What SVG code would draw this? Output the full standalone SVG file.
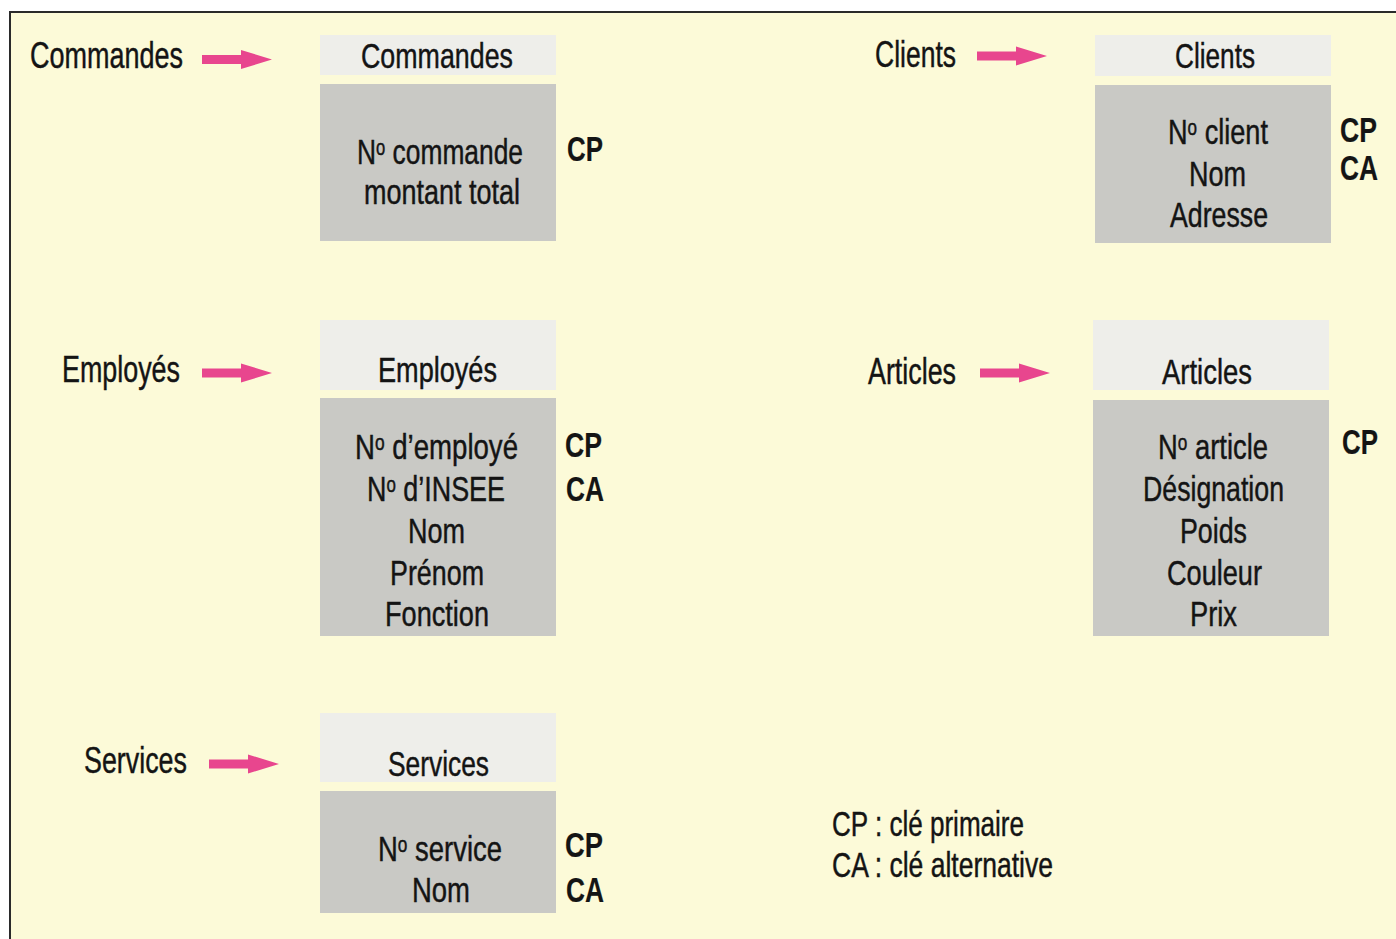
<svg xmlns="http://www.w3.org/2000/svg" xmlns:xlink="http://www.w3.org/1999/xlink" width="1396" height="939" viewBox="0 0 1396 939">
<style>
text{font-family:"Liberation Sans Narrow","Liberation Sans",Arial,sans-serif;fill:#141414;stroke:#141414;stroke-width:0.45px}
.lbl{font-size:37px}
.hd{font-size:35px}
.bd{font-size:35px}
.key{font-size:35px;font-weight:bold;stroke-width:0.2px}
.lg{font-size:35px}
.head{fill:#eeeeea}
.body{fill:#c9c9c5}
.arrow{fill:#e8468e}
.sup{font-size:22px}
</style>
<defs>
<path id="arr" d="M0,-4.5 H39 V-9.5 L70,0 L39,9.5 V4.5 H0 Z"/>
</defs>
<rect x="0" y="0" width="1396" height="939" fill="#ffffff"/>
<rect x="10" y="12" width="1400" height="940" fill="#fcfad8" stroke="#2a2a2a" stroke-width="2"/>

<g id="connectors" class="arrow">
<use xlink:href="#arr" transform="translate(202,59.5)"/>
<use xlink:href="#arr" transform="translate(202,373)"/>
<use xlink:href="#arr" transform="translate(209,764)"/>
<use xlink:href="#arr" transform="translate(977,56)"/>
<use xlink:href="#arr" transform="translate(980,373)"/>
</g>

<g id="label-commandes"><text class="lbl" x="30" y="68" textLength="153" lengthAdjust="spacingAndGlyphs">Commandes</text></g>
<g id="label-employes"><text class="lbl" x="62" y="382" textLength="118" lengthAdjust="spacingAndGlyphs">Employés</text></g>
<g id="label-services"><text class="lbl" x="84" y="773" textLength="103" lengthAdjust="spacingAndGlyphs">Services</text></g>
<g id="label-clients"><text class="lbl" x="875" y="67" textLength="81" lengthAdjust="spacingAndGlyphs">Clients</text></g>
<g id="label-articles"><text class="lbl" x="868" y="384" textLength="88" lengthAdjust="spacingAndGlyphs">Articles</text></g>

<g id="table-commandes">
<rect class="head" x="320" y="35" width="236" height="40"/>
<rect class="body" x="320" y="84" width="236" height="157"/>
<text class="hd" x="361" y="68" textLength="152" lengthAdjust="spacingAndGlyphs">Commandes</text>
<text class="bd" x="357" y="164" textLength="166" lengthAdjust="spacingAndGlyphs">N<tspan class="sup" baseline-shift="40%">o</tspan> commande</text>
<text class="bd" x="364" y="204" textLength="156" lengthAdjust="spacingAndGlyphs">montant total</text>
<text class="key" x="567" y="161" textLength="36" lengthAdjust="spacingAndGlyphs">CP</text>
</g>

<g id="table-clients">
<rect class="head" x="1095" y="35" width="236" height="41"/>
<rect class="body" x="1095" y="85" width="236" height="158"/>
<text class="hd" x="1175" y="68" textLength="80" lengthAdjust="spacingAndGlyphs">Clients</text>
<text class="bd" x="1168" y="144" textLength="100" lengthAdjust="spacingAndGlyphs">N<tspan class="sup" baseline-shift="40%">o</tspan> client</text>
<text class="bd" x="1189" y="186" textLength="57" lengthAdjust="spacingAndGlyphs">Nom</text>
<text class="bd" x="1170" y="227" textLength="98" lengthAdjust="spacingAndGlyphs">Adresse</text>
<text class="key" x="1340" y="142" textLength="37" lengthAdjust="spacingAndGlyphs">CP</text>
<text class="key" x="1340" y="180" textLength="38" lengthAdjust="spacingAndGlyphs">CA</text>
</g>

<g id="table-employes">
<rect class="head" x="320" y="320" width="236" height="70"/>
<rect class="body" x="320" y="398" width="236" height="238"/>
<text class="hd" x="378" y="382" textLength="119" lengthAdjust="spacingAndGlyphs">Employés</text>
<text class="bd" x="355" y="459" textLength="163" lengthAdjust="spacingAndGlyphs">N<tspan class="sup" baseline-shift="40%">o</tspan> d’employé</text>
<text class="bd" x="367" y="501" textLength="138" lengthAdjust="spacingAndGlyphs">N<tspan class="sup" baseline-shift="40%">o</tspan> d’INSEE</text>
<text class="bd" x="408" y="543" textLength="57" lengthAdjust="spacingAndGlyphs">Nom</text>
<text class="bd" x="390" y="585" textLength="94" lengthAdjust="spacingAndGlyphs">Prénom</text>
<text class="bd" x="385" y="626" textLength="104" lengthAdjust="spacingAndGlyphs">Fonction</text>
<text class="key" x="565" y="457" textLength="37" lengthAdjust="spacingAndGlyphs">CP</text>
<text class="key" x="566" y="501" textLength="38" lengthAdjust="spacingAndGlyphs">CA</text>
</g>

<g id="table-articles">
<rect class="head" x="1093" y="320" width="236" height="70"/>
<rect class="body" x="1093" y="400" width="236" height="236"/>
<text class="hd" x="1162" y="384" textLength="90" lengthAdjust="spacingAndGlyphs">Articles</text>
<text class="bd" x="1158" y="459" textLength="110" lengthAdjust="spacingAndGlyphs">N<tspan class="sup" baseline-shift="40%">o</tspan> article</text>
<text class="bd" x="1143" y="501" textLength="141" lengthAdjust="spacingAndGlyphs">Désignation</text>
<text class="bd" x="1180" y="543" textLength="67" lengthAdjust="spacingAndGlyphs">Poids</text>
<text class="bd" x="1167" y="585" textLength="95" lengthAdjust="spacingAndGlyphs">Couleur</text>
<text class="bd" x="1190" y="626" textLength="47" lengthAdjust="spacingAndGlyphs">Prix</text>
<text class="key" x="1342" y="454" textLength="36" lengthAdjust="spacingAndGlyphs">CP</text>
</g>

<g id="table-services">
<rect class="head" x="320" y="713" width="236" height="69"/>
<rect class="body" x="320" y="791" width="236" height="122"/>
<text class="hd" x="388" y="776" textLength="101" lengthAdjust="spacingAndGlyphs">Services</text>
<text class="bd" x="378" y="861" textLength="124" lengthAdjust="spacingAndGlyphs">N<tspan class="sup" baseline-shift="40%">o</tspan> service</text>
<text class="bd" x="412" y="902" textLength="58" lengthAdjust="spacingAndGlyphs">Nom</text>
<text class="key" x="565" y="857" textLength="38" lengthAdjust="spacingAndGlyphs">CP</text>
<text class="key" x="566" y="902" textLength="38" lengthAdjust="spacingAndGlyphs">CA</text>
</g>

<g id="legend">
<text class="lg" x="832" y="836" textLength="192" lengthAdjust="spacingAndGlyphs">CP : clé primaire</text>
<text class="lg" x="832" y="877" textLength="221" lengthAdjust="spacingAndGlyphs">CA : clé alternative</text>
</g>
</svg>
